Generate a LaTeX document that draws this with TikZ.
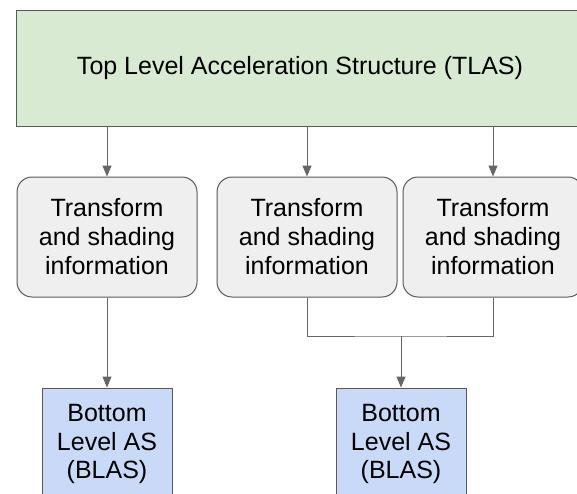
\documentclass[tikz,border=0pt]{standalone}
\usepackage{fontspec}
\setmainfont{Liberation Sans}
\usetikzlibrary{arrows.meta,positioning}
\definecolor{tlasgreen}{HTML}{D9EAD3}
\definecolor{infogray}{HTML}{EFEFEF}
\definecolor{blasblue}{HTML}{C9DAF8}
\definecolor{edgegray}{HTML}{595959}
\definecolor{linkgray}{HTML}{666666}
\tikzset{
  tlasbox/.style={draw=edgegray,fill=tlasgreen,line width=1pt,minimum width=568pt,minimum height=116pt,
    font=\fontsize{25}{29}\selectfont},
  infobox/.style={draw=edgegray,fill=infogray,line width=1pt,rounded corners=15pt,minimum width=180pt,
    minimum height=120pt,align=center,font=\fontsize{25}{29}\selectfont},
  blasbox/.style={draw=edgegray,fill=blasblue,line width=1pt,minimum width=130pt,minimum height=112pt,
    align=center,font=\fontsize{25}{28.5}\selectfont},
  link/.style={draw=linkgray,line width=1pt,-{Triangle[length=11pt,width=9pt]}}
}
\begin{document}
\begin{tikzpicture}[x=1pt,y=-1pt]
  \clip (0,0) rectangle (577,493);
  \fill[white] (0,0) rectangle (577,493);
  \node[tlasbox] (tlas) at (300,68) {Top Level Acceleration Structure (TLAS)};
  \node[infobox] (info1) at (107,237) {Transform\\and shading\\information};
  \node[infobox] (info2) at (307,237) {Transform\\and shading\\information};
  \node[infobox] (info3) at (493,237) {Transform\\and shading\\information};
  \node[blasbox] (blas1) at (107,444) {Bottom\\Level AS\\(BLAS)};
  \node[blasbox] (blas2) at (401,444) {Bottom\\Level AS\\(BLAS)};
  % tlas to the info boxes
  \draw[link] (tlas.south -| info1.north) -- (info1.north);
  \draw[link] (tlas.south -| info2.north) -- (info2.north);
  \draw[link] (tlas.south -| info3.north) -- (info3.north);
  % info boxes to blas
  \coordinate (join) at (401,336);
  \draw[link] (info1.south) -- (blas1.north);
  \draw[draw=linkgray,line width=1pt] (info2.south) |- (join) -| (info3.south);
  \draw[link] (join) -- (blas2.north);
\end{tikzpicture}
\end{document}
